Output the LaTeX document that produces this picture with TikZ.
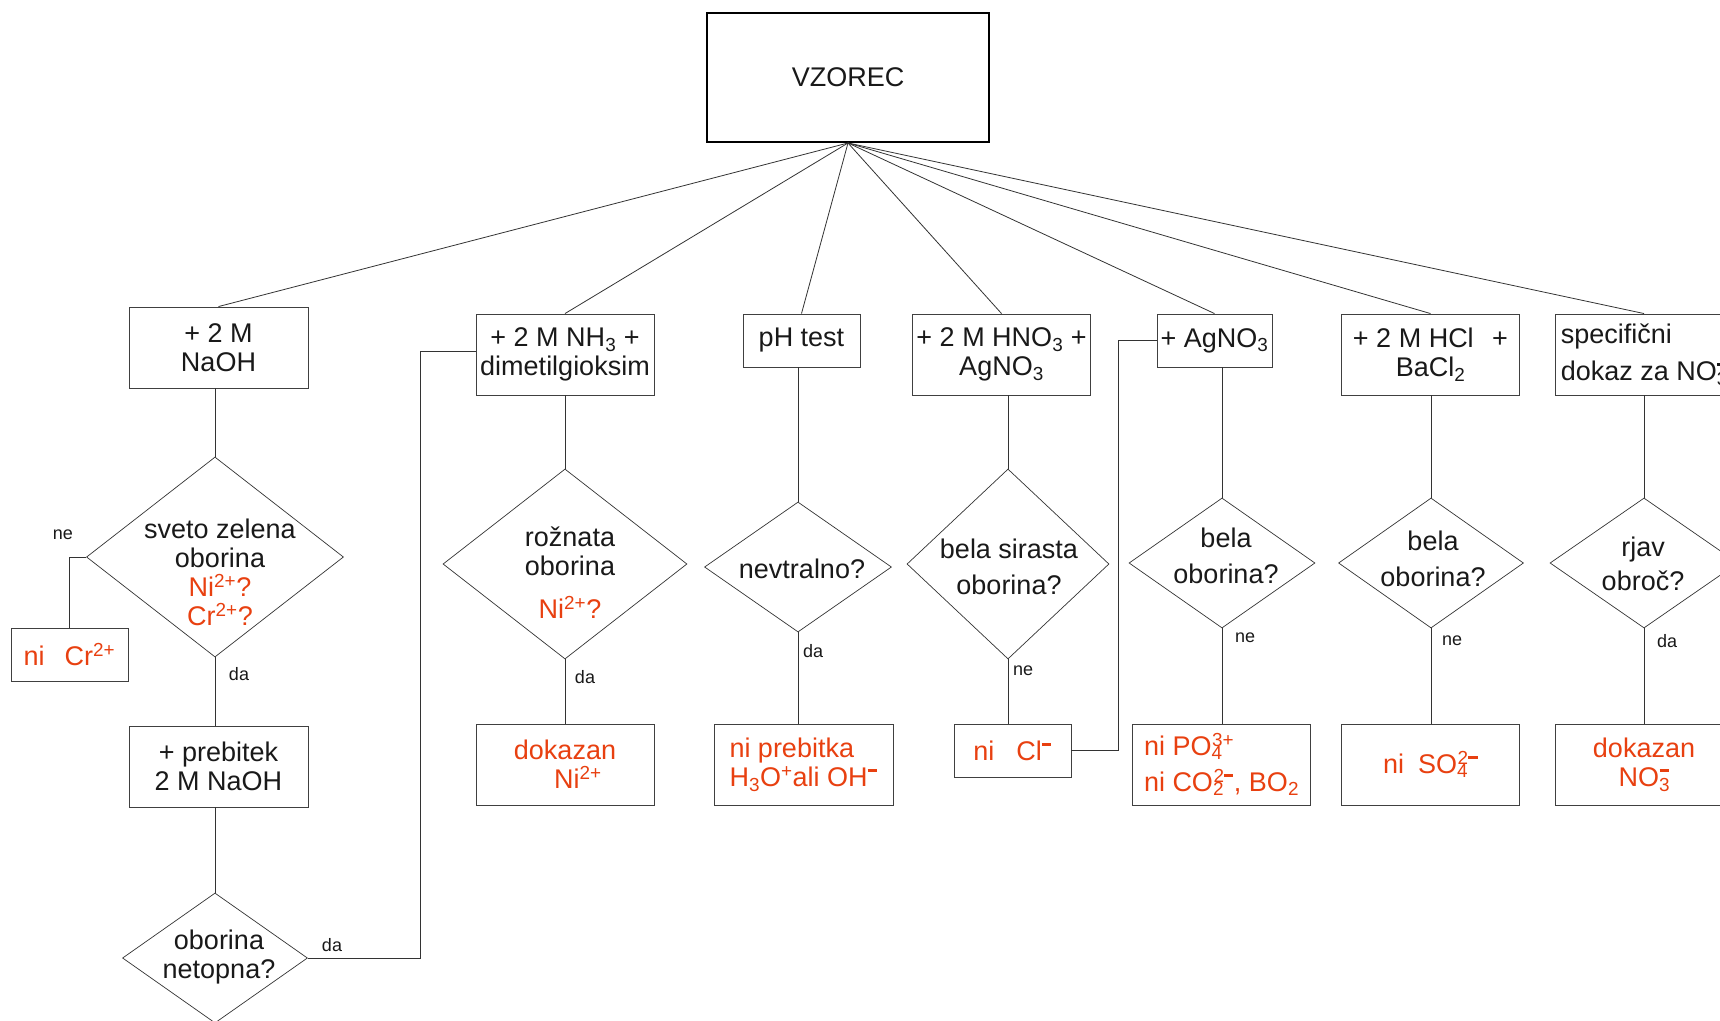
\documentclass[tikz,border=0pt]{standalone}
\usepackage{fontspec}
\setmainfont{Liberation Sans}
\usetikzlibrary{shapes.geometric}
\definecolor{ionred}{RGB}{232,64,16}
\newcommand\hl[1]{\textcolor{ionred}{#1}}
\newcommand\ionsub[1]{\textsubscript{#1}}
\newcommand\ionsup[1]{\textsuperscript{#1}}
\newcommand\ionboth[2]{\textsubscript{\rlap{#1}}\textsuperscript{#2}}
\newcommand\ionminus{\rule[0.5ex]{0.5em}{0.16em}}

\begin{document}
\begin{tikzpicture}[x=1pt, y=-1pt,
		every node/.style={font=\fontsize{27}{29}\selectfont, inner sep=0pt, text=black!90},
		stepbox/.style={draw=black!75, line width=0.9pt, minimum width=178, minimum height=81, align=center},
		smallbox/.style={stepbox, minimum width=117, minimum height=53},
		choice/.style={draw=black!80, line width=0.7pt, diamond, inner sep=0pt},
		choicetext/.style={align=center},
		answer/.style={font=\fontsize{18}{20}\selectfont},
		link/.style={draw=black!80, line width=0.8pt}]
			%%%%% START %%%%%
			\useasboundingbox (0,0) rectangle (1720,1020);
			\clip (0,0) rectangle (1720,1020);
			
			\node[draw=black, line width=2pt, minimum width=282, minimum height=129] (vzorec) at (848,77.5) {VZOREC};
			
			\node[stepbox, minimum width=179] (naoh) at (218.5,347.5) {+ 2 M\\NaOH};
			\node[stepbox] (nh3) at (565,354.5) {+ 2 M NH\ionsub{3} +\\dimetilgioksim};
			\node[smallbox] (ph) at (801.5,340.5) {pH test};
			\node[stepbox] (hno3) at (1001.5,354.5) {+ 2 M HNO\ionsub{3} +\\AgNO\ionsub{3}};
			\node[smallbox, minimum width=115] (agno3) at (1214.5,340.5) {+ AgNO\ionsub{3}};
			\node[stepbox] (hcl) at (1430.5,354.5) {+ 2 M HCl\hspace{11pt} +\\BaCl\ionsub{2}};
			\node[stepbox, align=left] (spec) at (1644,354.5) {specifični\\[8pt]dokaz za NO\ionboth{3}{\ionminus}};
			
			\node[choice, minimum width=257, minimum height=200] (d1) at (215,557) {};
			\node[choicetext] (d1txt) at (220,572) {sveto zelena\\oborina\\\hl{Ni\ionsup{2+}?}\\\hl{Cr\ionsup{2+}?}};
			\node[choice, minimum width=185, minimum height=130] (d2) at (215,958) {};
			\node[choicetext] (d2txt) at (219,957) {oborina\\netopna?};
			\node[choice, minimum width=244, minimum height=190] (d3) at (565,564) {};
			\node[choicetext] (d3txt) at (570,573) {rožnata\\oborina\\[14pt]\hl{Ni\ionsup{2+}?}};
			\node[choice, minimum width=187, minimum height=130] (d4) at (798,567) {};
			\node[choicetext] (d4txt) at (802,569) {nevtralno?};
			\node[choice, minimum width=202, minimum height=190] (d5) at (1008,564) {};
			\node[choicetext] (d5txt) at (1009,567) {bela sirasta\\[7pt]oborina?};
			\node[choice, minimum width=186, minimum height=130] (d6) at (1222,563) {};
			\node[choicetext] (d6txt) at (1226,556) {bela\\[7pt]oborina?};
			\node[choice, minimum width=185, minimum height=130] (d7) at (1431,563) {};
			\node[choicetext] (d7txt) at (1433,559) {bela\\[7pt]oborina?};
			\node[choice, minimum width=188, minimum height=130] (d8) at (1644,563) {};
			\node[choicetext] (d8txt) at (1643,564) {rjav\\[5pt]obroč?};
			
			\node[smallbox] (nicr) at (69.5,654.5) {\hl{ni\hspace{20pt}Cr\ionsup{2+}}};
			\node[stepbox, minimum width=179] (prebitek) at (218.5,766.5) {+ prebitek\\2 M NaOH};
			\node[stepbox] (dokni) at (565,764.5) {\hl{dokazan}\\\hspace*{26pt}\hl{Ni\ionsup{2+}}};
			\node[stepbox, minimum width=179, align=left] (phres) at (803.5,764.5) {\hl{ni prebitka}\\\hl{H\ionsub{3}O\ionsup{+}ali OH\ionsup{\ionminus}}};
			\node[smallbox] (nicl) at (1012.5,750.5) {\hl{ni\hspace{22pt}Cl\ionsup{\ionminus}}};
			\node[stepbox, align=left] (nipo) at (1221.5,764.5) {\hl{ni PO\ionboth{4}{3+}}\\[7pt]\hl{ni CO\ionboth{2}{2\ionminus}, BO\ionsub{2}}};
			\node[stepbox] (niso) at (1430.5,764.5) {\hl{ni\hspace{14pt}SO\ionboth{4}{2\ionminus}}};
			\node[stepbox] (dokno) at (1644,764.5) {\hl{dokazan}\\\hl{NO\ionboth{3}{\ionminus}}};
			
			\node[answer] (ne1) at (63,535) {ne};
			\node[answer] (da1) at (239,674) {da};
			\node[answer] (da2) at (332,945) {da};
			\node[answer] (da3) at (585,677) {da};
			\node[answer] (da4) at (813,651) {da};
			\node[answer] (ne5) at (1023,671) {ne};
			\node[answer] (ne6) at (1245,638) {ne};
			\node[answer] (ne7) at (1452,641) {ne};
			\node[answer] (da8) at (1667,641) {da};
			
			\coordinate (jog1) at (420,351);
			\coordinate (jog2) at (1118,340);
			
			\foreach \n in {naoh,nh3,ph,hno3,agno3,hcl,spec}
				\draw[link] (vzorec.south) -- (\n.north);
			\foreach \b/\d in {naoh/d1,prebitek/d2,nh3/d3,ph/d4,hno3/d5,agno3/d6,hcl/d7,spec/d8}
				\draw[link] (\d.north |- \b.south) -- (\d.north);
			\foreach \d/\r in {d1/prebitek,d3/dokni,d4/phres,d5/nicl,d6/nipo,d7/niso,d8/dokno}
				\draw[link] (\d.south) -- (\d.south |- \r.north);
			
			\draw[link] (d1.west) -| (nicr.north);
			\draw[link] (d2.east) -| (jog1) -- (jog1 -| nh3.west);
			\draw[link] (nicl.east) -| (jog2) -- (jog2 -| agno3.west);
			%%%%% END %%%%%
\end{tikzpicture}
\end{document}
